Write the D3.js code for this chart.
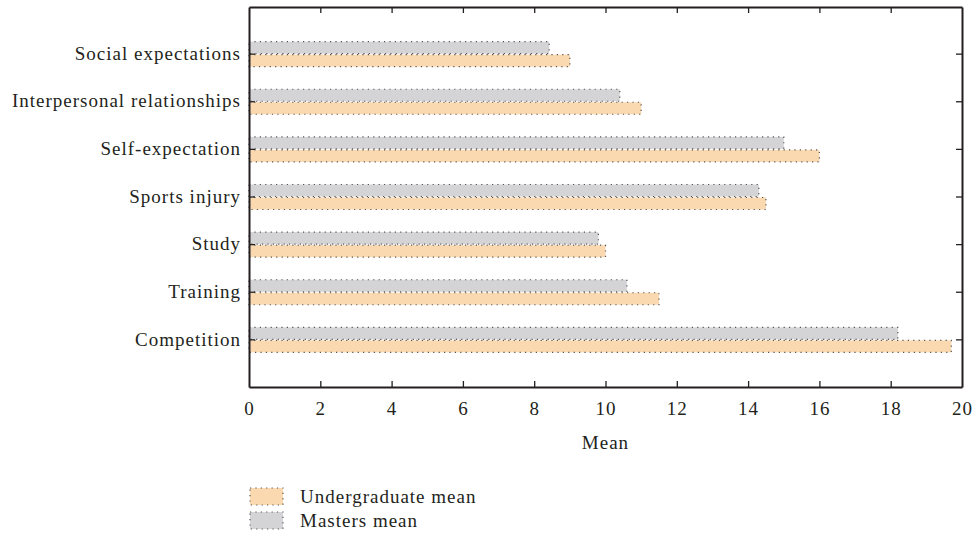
<!DOCTYPE html>
<html><head><meta charset="utf-8">
<script src="https://cdn.jsdelivr.net/npm/d3@7"></script>
<style>body{margin:0;background:#fff}svg{display:block}text{font-family:"Liberation Serif","DejaVu Serif",serif;fill:#231f20;letter-spacing:1px}</style>
</head><body><svg id="c" width="975" height="541"></svg>
<script>
const categories = ["Social expectations","Interpersonal relationships","Self-expectation","Sports injury","Study","Training","Competition"];
const undergraduate = [9.0, 11.0, 16.0, 14.5, 10.0, 11.5, 19.7];
const masters = [8.42, 10.4, 15.0, 14.3, 9.8, 10.6, 18.2];
const xTicks = [0,2,4,6,8,10,12,14,16,18,20];
const seriesNames = ["Undergraduate mean","Masters mean"];
const colors = {u:"#fad8b0", m:"#d4d4d6"};

const svg = d3.select("#c");
const L=249, R=962, T=7, B=387;
const FS = 19;
const x = d3.scaleLinear().domain([0,20]).range([L,R]);
const y = d3.scaleBand().domain(categories).range([T,B]).paddingOuter(0.49).paddingInner(0);
const bh = 12;
const dotStroke = {stroke:"#555", "stroke-width":1.2, "stroke-dasharray":"1.2,4.2"};

function styleDots(sel){ Object.entries(dotStroke).forEach(([k,v])=>sel.attr(k,v)); return sel; }

// bars
const g = svg.append("g");
categories.forEach((c,i)=>{
  const cy = y(c)+y.bandwidth()/2;
  styleDots(g.append("rect").attr("x",x(0)).attr("y",cy-bh-0.5).attr("width",x(masters[i])-x(0)).attr("height",bh).attr("fill",colors.m));
  styleDots(g.append("rect").attr("x",x(0)).attr("y",cy+0.5).attr("width",x(undergraduate[i])-x(0)).attr("height",bh).attr("fill",colors.u));
});

// axes
const axBottom = svg.append("g").attr("transform",`translate(0,${B})`)
  .call(d3.axisBottom(x).tickValues(xTicks).tickSizeInner(-6).tickSizeOuter(0).tickPadding(15).tickFormat(d3.format("d")));
const axTop = svg.append("g").attr("transform",`translate(0,${T})`)
  .call(d3.axisTop(x).tickValues(xTicks).tickSizeInner(-6).tickSizeOuter(0).tickFormat(""));
const axLeft = svg.append("g").attr("transform",`translate(${L},0)`)
  .call(d3.axisLeft(y).tickSizeInner(-6).tickSizeOuter(0).tickPadding(8));
const axRight = svg.append("g").attr("transform",`translate(${R},0)`)
  .call(d3.axisRight(y).tickSizeInner(-6).tickSizeOuter(0).tickFormat(""));
[axBottom,axTop,axLeft,axRight].forEach(a=>{
  a.selectAll(".domain").attr("stroke","#231f20").attr("stroke-width",2);
  a.selectAll(".tick line").attr("stroke","#231f20").attr("stroke-width",1.3);
  a.selectAll("text").attr("font-size",FS).attr("font-family","Liberation Serif").attr("fill","#231f20");
});
[axBottom, axTop].forEach(a=>a.selectAll(".tick line").filter(d=>d===0||d===20).remove());
axLeft.selectAll(".tick text").attr("dy","0.3em");
axBottom.selectAll(".tick text").attr("dy","0.66em");

svg.append("text").attr("x",(L+R)/2).attr("y",449).attr("text-anchor","middle").attr("font-size",FS).text("Mean");

// legend
const leg = svg.append("g");
[[colors.u, seriesNames[0], 488, 503],[colors.m, seriesNames[1], 512, 527]].forEach(([col,name,yy,ty])=>{
  styleDots(leg.append("rect").attr("x",250).attr("y",yy).attr("width",33).attr("height",17).attr("fill",col));
  leg.append("text").attr("x",300).attr("y",ty).attr("font-size",FS).text(name);
});
</script></body></html>
